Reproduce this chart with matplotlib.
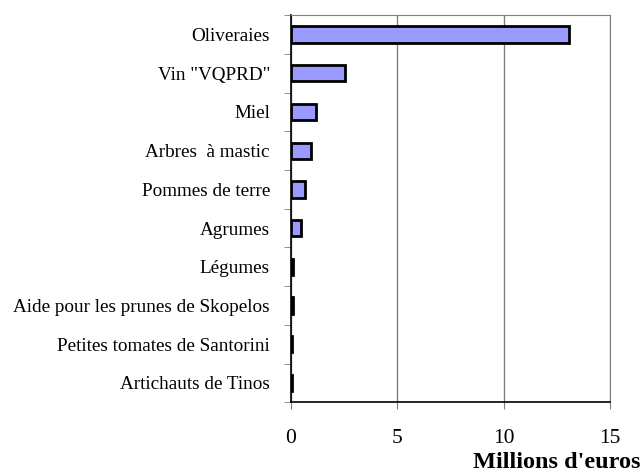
import numpy as np
import matplotlib.pyplot as plt

categories = ["Oliveraies", 'Vin "VQPRD"', "Miel", "Arbres  à mastic", "Pommes de terre",
              "Agrumes", "Légumes", "Aide pour les prunes de Skopelos",
              "Petites tomates de Santorini", "Artichauts de Tinos"]
valeurs = [13.1, 2.55, 1.2, 0.95, 0.65, 0.5, 0.1, 0.08, 0.05, 0.05]
xticks = [0, 5, 10, 15]

plt.rcParams['font.family'] = ['Liberation Serif', 'DejaVu Serif']

fig = plt.figure(figsize=(6.42, 4.76), dpi=100)
ax = fig.add_axes([0.453, 0.155, 0.497, 0.813])

y = np.arange(len(categories))
ax.barh(y, valeurs, height=0.42, color='#9999ff', edgecolor='black', linewidth=2, zorder=3)

ax.set_xlim(0, 15)
ax.set_ylim(len(categories) - 0.5, -0.5)
ax.set_xticks(xticks)
ax.set_xticklabels([str(t) for t in xticks], fontsize=15.5)
ax.set_yticks(y)
ax.set_yticklabels(categories, fontsize=13.8)
ax.tick_params(axis='y', which='major', length=0, pad=15)
ax.set_yticks(np.arange(len(categories) + 1) - 0.5, minor=True)
ax.tick_params(axis='y', which='minor', length=5, color='#808080')
ax.tick_params(axis='x', length=5, color='#808080', pad=14)

ax.grid(axis='x', color='#808080', linewidth=1, zorder=0)
for s in ['top', 'right']:
    ax.spines[s].set_color('#808080')
for s in ['left', 'bottom']:
    ax.spines[s].set_color('black')
    ax.spines[s].set_linewidth(1.2)

fig.text(0.997, 0.028, "Millions d'euros", ha='right', va='center', fontsize=17.5, fontweight='bold')

fig.savefig('out.png', dpi=100)
